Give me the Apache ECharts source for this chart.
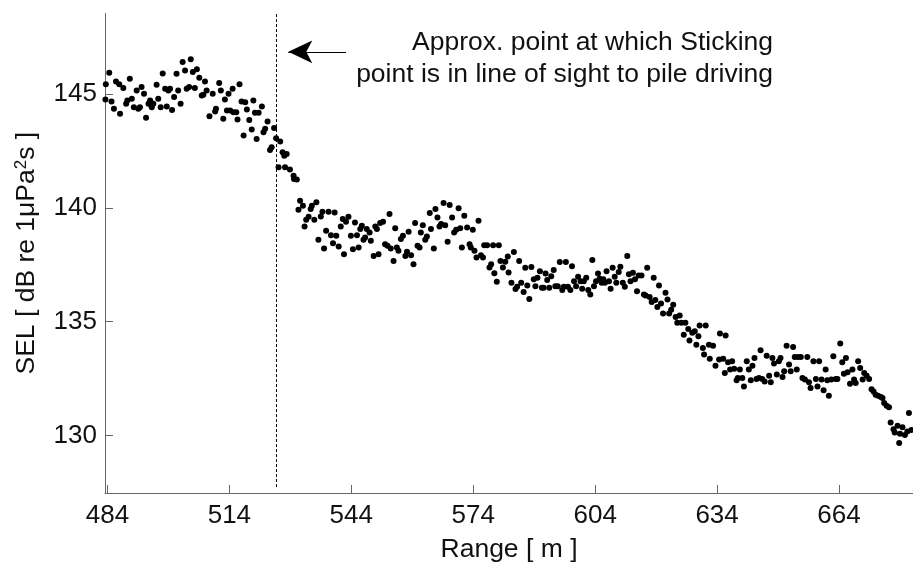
<!DOCTYPE html>
<html>
<head>
<meta charset="utf-8">
<script src="https://cdn.jsdelivr.net/npm/echarts@6/dist/echarts.min.js"></script>
<style>
  html, body { margin: 0; padding: 0; background: #fff; }
  #chart { width: 913px; height: 562px; }
</style>
</head>
<body>
<div id="chart"></div>
<script>
// SEL samples as [range (m), SEL (dB re 1 µPa²s)], grouped by range band
const band484to530 = [
  [483.6,145.42],[483.5,144.76],[484.45,145.93],[485.0,144.67],[485.6,144.35],[486.1,145.55],[486.9,145.42],[487.1,144.13],
  [487.9,145.26],[488.6,144.57],[488.9,144.71],[489.5,145.67],[490.0,144.79],[490.5,144.42],[491.2,145.15],[491.6,144.35],
  [492.0,144.42],[492.4,145.30],[493.0,145.01],[493.5,143.95],[494.1,144.57],[494.5,144.71],[494.9,144.42],[495.3,144.57],
  [496.1,145.40],[496.5,144.79],[497.1,144.42],[497.6,145.90],[498.2,145.23],[498.6,144.45],[499.0,145.15],[499.4,145.23],
  [499.9,144.30],[500.4,144.86],[501.0,145.89],[501.4,145.15],[502.0,144.57],[502.5,146.40],[503.1,146.03],[503.5,145.23],
  [504.1,145.30],[504.5,146.52],[505.0,145.96],[505.5,145.26],[506.0,146.08],[506.6,145.71],[507.2,144.93],[507.6,144.96],
  [508.0,145.55],[508.4,145.15],[509.1,144.02],[509.9,145.01],[510.5,144.23],[510.7,144.35],[511.5,145.48],[511.9,145.15],
  [512.5,143.91],[512.9,144.76],[513.4,144.27],[513.8,145.01],[514.2,144.27],[514.8,145.23],[515.0,144.20],[515.7,144.20],
  [516.0,143.88],[516.5,145.43],[517.0,144.67],[517.5,143.17],[517.9,144.64],[518.3,144.32],[518.9,143.86],[519.5,143.44],
  [519.9,144.71],[520.3,144.17],[520.7,143.02],[521.2,144.17],[522.0,144.45],[522.4,143.32],[522.8,143.47],[523.4,143.79],
  [524.0,142.54],[524.4,142.66],[525.0,143.50],[525.5,143.05],[526.1,141.78],[526.5,142.91],[527.1,142.44],[527.5,142.29],
  [528.1,142.36],[527.7,141.78],[528.9,141.68],[529.8,141.41],[529.9,141.27],[530.6,141.24]
];

const band531to583 = [
  [531.4,140.31],[531.0,139.92],[532.1,140.09],[532.5,139.18],[532.9,139.48],[533.5,139.61],[534.0,139.95],[534.3,140.09],
  [534.9,139.48],[535.4,140.24],[535.9,138.60],[536.5,139.62],[536.9,139.83],[537.3,138.21],[537.8,138.99],[538.4,139.83],
  [539.0,138.80],[539.5,138.45],[539.9,139.80],[540.3,138.77],[540.9,138.30],[541.4,139.18],[541.9,139.51],[542.2,137.96],
  [542.7,139.39],[543.3,139.61],[543.9,138.77],[544.4,138.18],[544.9,139.36],[545.4,138.80],[545.8,138.26],[546.2,139.07],
  [546.6,139.21],[547.0,138.60],[547.4,138.70],[547.8,139.07],[548.5,138.92],[548.8,138.55],[549.5,137.89],[549.9,139.18],
  [550.3,139.07],[550.7,137.96],[551.1,139.33],[551.8,139.39],[552.3,138.40],[552.9,138.33],[553.4,139.73],[553.7,138.21],
  [554.4,137.67],[554.8,139.10],[555.2,138.26],[555.6,138.11],[556.2,138.63],[556.7,138.77],[557.3,137.89],[557.7,138.07],
  [558.1,138.95],[558.7,137.92],[559.3,137.52],[559.7,139.33],[560.3,138.33],[560.8,138.26],[561.1,138.92],[561.6,139.24],
  [562.2,138.60],[562.6,138.74],[563.3,139.77],[563.6,139.07],[564.3,138.21],[564.7,139.95],[565.2,139.58],[565.7,139.18],
  [566.1,139.29],[566.7,140.21],[567.1,139.24],[567.7,138.51],[568.2,140.12],[568.8,139.58],[569.3,138.92],[569.8,139.04],
  [570.4,139.98],[570.8,139.10],[571.2,138.26],[571.8,139.65],[572.5,139.14],[573.1,138.40],[573.4,138.26],[573.9,139.04],
  [574.3,138.11],[574.8,137.82],[575.3,139.43],[575.9,137.92],[576.4,137.82],[576.7,138.36],[577.4,138.36],[578.0,137.38],
  [578.4,137.52],[578.9,138.36],[579.2,137.13],[579.8,136.75],[580.3,138.36],[580.7,137.67],[581.3,137.38],[581.9,137.63],
  [582.5,137.86],[582.7,137.16]
];

const band583to633 = [
  [583.4,136.71],[584.0,138.06],[584.4,136.44],[584.8,136.53],[585.3,137.66],[585.8,136.71],[586.4,136.30],[586.8,137.37],
  [587.3,136.59],[587.8,136.00],[588.3,137.40],[588.9,136.86],[589.3,136.56],[589.8,136.93],[590.4,137.22],[590.9,136.49],
  [591.3,136.49],[591.8,137.12],[592.2,136.83],[592.7,136.49],[593.2,137.00],[593.8,137.27],[594.2,136.56],[594.8,136.56],
  [595.3,137.62],[595.9,136.39],[596.3,136.53],[596.8,137.62],[597.3,136.53],[597.9,136.39],[598.3,137.44],[598.8,136.78],
  [599.3,136.56],[599.8,136.97],[600.4,136.78],[600.8,136.45],[601.2,136.78],[601.8,136.93],[602.3,136.39],[602.8,136.20],
  [603.3,137.71],[603.7,136.56],[604.2,136.78],[604.7,137.12],[605.1,136.89],[605.6,136.71],[606.0,136.86],[606.4,136.71],
  [606.8,137.22],[607.4,136.78],[607.8,136.45],[608.3,137.37],[608.8,136.97],[609.2,136.71],[609.8,137.18],[610.2,137.41],
  [610.8,136.71],[611.3,136.53],[611.9,137.88],[612.3,137.08],[612.7,136.78],[613.3,137.15],[613.8,136.86],[614.3,136.34],
  [614.7,137.03],[615.4,137.03],[616.0,136.20],[616.4,136.15],[616.8,137.37],[617.4,136.09],[617.9,135.86],[618.4,136.93],
  [618.8,135.95],[619.3,135.65],[619.7,136.59],[620.2,135.80],[620.7,135.36],[621.3,136.27],[621.8,135.97],[622.2,135.36],
  [622.7,135.53],[623.2,135.75],[623.8,135.21],[624.2,134.95],[624.8,135.27],[625.2,134.95],[625.8,134.43],[626.2,134.95],
  [626.9,134.68],[627.2,134.18],[627.9,134.51],[628.5,134.58],[628.9,133.99],[629.4,134.36],[629.7,134.83],[630.5,133.85],
  [631.2,134.83],[632.0,133.99],[633.0,133.95],[630.8,133.56],[632.2,133.37]
];

const band633to682 = [
  [633.6,133.07],[634.5,133.34],[634.7,134.48],[636.1,134.39],[635.5,133.37],[635.9,132.75],[636.7,133.22],[637.2,132.90],
  [637.7,133.26],[638.2,132.93],[638.8,132.43],[639.1,132.53],[639.6,132.90],[640.2,132.53],[640.6,132.16],[641.3,133.26],
  [641.8,132.90],[642.3,132.43],[642.7,133.07],[643.2,133.41],[643.7,132.49],[644.3,132.53],[644.7,133.75],[645.1,132.49],
  [645.7,132.38],[646.2,133.51],[646.8,132.63],[647.2,132.34],[647.6,133.41],[648.0,133.16],[648.7,132.68],[649.2,133.26],
  [649.6,133.41],[650.1,132.57],[650.5,132.82],[651.1,133.95],[651.7,133.12],[652.1,132.82],[652.7,133.89],[653.1,133.45],
  [653.6,132.90],[653.9,133.45],[654.6,133.45],[655.0,132.53],[655.6,132.46],[656.2,133.45],[656.6,132.34],[657.0,132.09],
  [657.7,133.26],[658.3,132.49],[658.7,132.16],[659.1,133.26],[659.7,132.46],[660.2,131.99],[660.7,132.90],[661.1,132.43],
  [661.5,131.75],[662.1,132.46],[662.6,133.48],[663.2,132.49],[663.6,132.49],[664.3,134.04],[664.8,133.22],[665.2,132.72],
  [665.7,133.41],[666.1,132.78],[666.7,132.28],[667.3,132.90],[667.7,132.46],[668.1,132.31],[668.7,133.26],[669.2,132.97],
  [669.8,132.46],[670.2,132.75],[670.8,132.63],[671.4,132.49],[672.0,132.04],[672.5,131.94],[673.0,131.79],[673.6,131.75],
  [674.3,131.69],[674.7,131.65],[675.1,131.43],[675.7,131.31],[676.3,131.25],[676.7,130.58],[677.4,130.28],[677.7,130.14],
  [678.4,130.43],[678.8,129.67],[679.0,130.08],[679.6,130.37],[680.2,130.03],[680.8,130.18],[681.2,130.99],[681.8,130.25]
];

const rangeTicks = [484, 514, 544, 574, 604, 634, 664];
const selTicks = [130, 135, 140, 145];

// Range where the receiver first has line of sight to the piling
const sightLineRange = 525.6;
const sightLineSpan = [127.74, 148.53];
// Arrow pointing at the sight line
const arrowFrom = [542.7, 146.85];
const arrowTo = [528.5, 146.85];

const FONT = '"Liberation Sans", Arial, Helvetica, sans-serif';
const AXIS_GREY = '#666';
const TEXT = '#111';

const chart = echarts.init(document.getElementById('chart'), null, { renderer: 'canvas' });

chart.setOption({
  animation: false,
  backgroundColor: '#fff',
  grid: {
    left: 105, right: 0, top: 13.3, bottom: 69,
    containLabel: false,
    outerBoundsMode: 'none'
  },
  xAxis: {
    type: 'value',
    min: 483.4,
    max: 682.2,
    name: 'Range [ m ]',
    nameLocation: 'middle',
    nameGap: 43,
    nameTextStyle: { fontFamily: FONT, fontSize: 26.5, color: TEXT },
    axisLine: { show: true, onZero: false, lineStyle: { color: AXIS_GREY, width: 1 } },
    axisTick: { show: true, inside: true, length: 8, customValues: rangeTicks, lineStyle: { color: AXIS_GREY } },
    axisLabel: { customValues: rangeTicks, fontFamily: FONT, fontSize: 26, color: TEXT, margin: 10 },
    splitLine: { show: false }
  },
  yAxis: {
    type: 'value',
    min: 127.48,
    max: 148.54,
    name: 'SEL [ dB re 1μPa{sup|2}s ]',
    nameLocation: 'middle',
    nameGap: 65,
    nameTextStyle: {
      fontFamily: FONT, fontSize: 26.5, color: TEXT,
      rich: { sup: { fontFamily: FONT, fontSize: 17, color: TEXT, verticalAlign: 'top' } }
    },
    axisLine: { show: true, onZero: false, lineStyle: { color: AXIS_GREY, width: 1 } },
    axisTick: { show: true, inside: true, length: 8, customValues: selTicks, lineStyle: { color: AXIS_GREY } },
    axisLabel: { customValues: selTicks, fontFamily: FONT, fontSize: 26, color: TEXT, margin: 8 },
    splitLine: { show: false }
  },
  graphic: [{
    type: 'text',
    right: 140,
    top: 27,
    silent: true,
    style: {
      text: 'Approx. point at which Sticking\npoint is in line of sight to pile driving',
      font: '26.5px ' + FONT,
      fill: TEXT,
      textAlign: 'right',
      lineHeight: 32
    }
  }],
  series: [{
    type: 'scatter',
    symbol: 'circle',
    symbolSize: 6,
    silent: true,
    itemStyle: { color: '#000', opacity: 1 },
    data: band484to530.concat(band531to583, band583to633, band633to682),
    markLine: {
      silent: true,
      animation: false,
      label: { show: false },
      emphasis: { disabled: true },
      data: [
        [
          { coord: [sightLineRange, sightLineSpan[0]], symbol: 'none',
            lineStyle: { color: '#000', width: 1, type: [3, 2] } },
          { coord: [sightLineRange, sightLineSpan[1]], symbol: 'none' }
        ],
        [
          { coord: arrowFrom, symbol: 'none',
            lineStyle: { color: '#000', width: 1.2, type: 'solid' } },
          { coord: arrowTo, symbol: 'arrow', symbolSize: [17, 24] }
        ]
      ]
    }
  }]
});
</script>
</body>
</html>
